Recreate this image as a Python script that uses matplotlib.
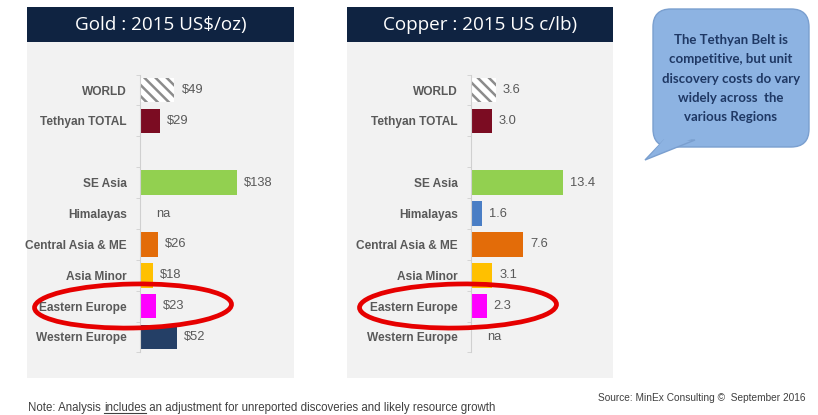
import matplotlib
matplotlib.use("Agg")
import matplotlib.pyplot as plt
from matplotlib.patches import Rectangle, Ellipse, FancyBboxPatch, Polygon

# ---- data ----
regions = ["WORLD", "Tethyan TOTAL", "", "SE Asia", "Himalayas",
           "Central Asia & ME", "Asia Minor", "Eastern Europe", "Western Europe"]
gold = [49, 29, None, 138, None, 26, 18, 23, 52]
copper = [3.6, 3.0, None, 13.4, 1.6, 7.6, 3.1, 2.3, None]
gold_labels = ["$49", "$29", "", "$138", "na", "$26", "$18", "$23", "$52"]
copper_labels = ["3.6", "3.0", "", "13.4", "1.6", "7.6", "3.1", "2.3", "na"]
colors = ["white", "#7B0C22", "white", "#92D050", "#4A7EC5",
          "#E36C09", "#FFC000", "#FF00FF", "#243F66"]

plt.rcParams["hatch.linewidth"] = 1.8

W, H = 818, 415
fig = plt.figure(figsize=(W / 100, H / 100), dpi=100)
fig.patch.set_facecolor("white")

def box(x0, y0, x1, y1):
    # pixel box -> figure fraction rect
    return [x0 / W, 1 - y1 / H, (x1 - x0) / W, (y1 - y0) / H]

back = fig.add_axes([0, 0, 1, 1], zorder=0)
back.set_xlim(0, W); back.set_ylim(H, 0); back.axis("off")

navy = "#0F2341"
for x0, x1, title in [(27, 294, "Gold : 2015 US\\$/oz)"),
                      (347, 613, "Copper : 2015 US c/lb)")]:
    back.add_patch(Rectangle((x0, 42), x1 - x0, 336, color="#F2F2F2", lw=0))
    back.add_patch(Rectangle((x0, 7), x1 - x0, 35, color=navy, lw=0))
    back.text((x0 + x1) / 2, 25, title, color="white", fontsize=13.6,
              family="Open Sans", ha="center", va="center")

label_col = "#595959"

def panel(rect, values, labels, xmax):
    ax = fig.add_axes(rect, zorder=2)
    ax.patch.set_alpha(0)
    rows = range(len(regions))
    for i, v in zip(rows, values):
        if v is None:
            continue
        if regions[i] == "WORLD":
            ax.barh(i, v, height=0.8, color="white", edgecolor="#8C8C8C",
                    hatch="\\\\\\", lw=0)
        else:
            ax.barh(i, v, height=0.8, color=colors[i], lw=0)
    for i, (v, t) in enumerate(zip(values, labels)):
        if t:
            ax.annotate(t, (v or 0, i), xytext=(7 if v else 16, 0),
                        textcoords="offset pixels",
                        va="center", ha="left", fontsize=9.3,
                        color=label_col, family="Liberation Sans")
    ax.set_ylim(len(regions) - 0.5, -0.5)
    ax.set_xlim(0, xmax)
    ax.set_yticks(list(rows))
    ax.set_yticklabels(regions, fontsize=8.6, fontweight="bold",
                       color=label_col, family="Liberation Sans")
    ax.set_yticks([r + 0.5 for r in range(-1, len(regions))], minor=True)
    ax.tick_params(axis="y", which="major", length=0, pad=9.5)
    ax.tick_params(axis="y", which="minor", length=3, color="#D0D0D0")
    ax.set_xticks([])
    for s in ["top", "right", "bottom"]:
        ax.spines[s].set_visible(False)
    ax.spines["left"].set_color("#D0D0D0")
    return ax

panel(box(140, 74.6, 290, 352.4), gold, gold_labels, 150 / 0.703)
panel(box(471, 74.6, 611, 352.4), copper, copper_labels, 140 / 6.87)

front = fig.add_axes([0, 0, 1, 1], zorder=5)
front.set_xlim(0, W); front.set_ylim(H, 0); front.axis("off")
front.patch.set_alpha(0)

for cx in (133, 458):
    front.add_patch(Ellipse((cx, 306), 197, 44, angle=-1, fill=False,
                            edgecolor="#E60000", lw=3.4))

# speech bubble
bub_face, bub_edge = "#8DB3E2", "#7A9FCF"
front.add_patch(FancyBboxPatch((660, 16), 142, 124,
                               boxstyle="round,pad=7,rounding_size=18",
                               fc=bub_face, ec=bub_edge, lw=1))
front.add_patch(Polygon([(664, 140), (695, 140), (645, 160)],
                        closed=True, fc=bub_face, ec=bub_edge, lw=1))
front.add_patch(Polygon([(665, 138), (694, 138), (650, 156)],
                        closed=True, fc=bub_face, ec="none", lw=0))
bubble_lines = ["The Tethyan Belt is", "competitive, but unit",
                "discovery costs do vary", "widely across  the",
                "various Regions"]
for k, line in enumerate(bubble_lines):
    front.text(731, 40 + k * 19.3, line, ha="center", va="center",
               fontsize=9.5, fontweight="bold", color="#1F3864",
               family="Lato")

# footer
note_font = dict(fontsize=8.3, color="#404040",
                 family=["Liberation Sans Narrow", "Liberation Sans"])
t1 = front.text(28, 408, "Note: Analysis ", ha="left", va="center", **note_font)
fig.canvas.draw()
r = fig.canvas.get_renderer()
bb1 = t1.get_window_extent(r)
t2 = front.text(bb1.x1, H - 408, "includes", ha="left", va="center",
                transform=None, **note_font)
bb2 = t2.get_window_extent(r)
front.plot([bb2.x0, bb2.x1], [bb2.y0 + 1, bb2.y0 + 1], transform=None,
           color="#404040", lw=0.8)
front.text(bb2.x1, H - 408, " an adjustment for unreported discoveries and likely resource growth",
           ha="left", va="center", transform=None, **note_font)
front.text(806, 398, "Source: MinEx Consulting \u00a9  September 2016",
           ha="right", va="center", fontsize=7.3, color="#404040",
           family=["Liberation Sans Narrow", "Liberation Sans"])

fig.savefig("out.png", dpi=100)
